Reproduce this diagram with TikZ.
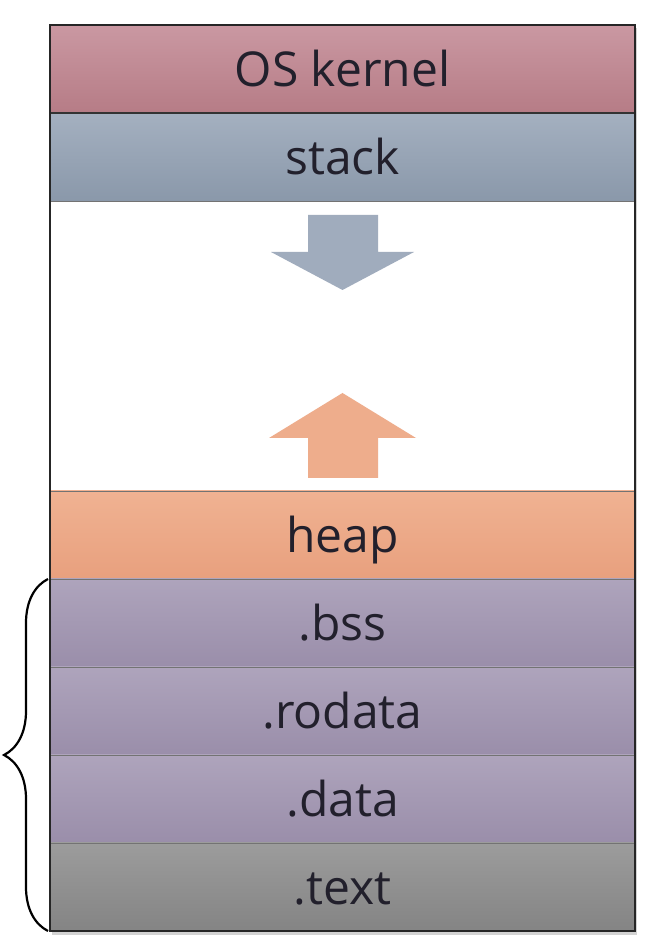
\documentclass[tikz,border=0pt]{standalone}
\usepackage{fontspec}
\setmainfont{Open Sans}
\usetikzlibrary{positioning,decorations.pathreplacing,shadows}
\definecolor{kerneltop}{RGB}{202,152,162}
\definecolor{kernelbot}{RGB}{182,124,134}
\definecolor{stacktop}{RGB}{164,176,192}
\definecolor{stackbot}{RGB}{138,152,170}
\definecolor{heaptop}{RGB}{240,178,146}
\definecolor{heapbot}{RGB}{232,160,126}
\definecolor{sectop}{RGB}{174,164,188}
\definecolor{secbot}{RGB}{154,142,170}
\definecolor{texttop}{RGB}{156,156,156}
\definecolor{textbot}{RGB}{132,132,132}
\definecolor{labelink}{RGB}{34,32,44}
\begin{document}
\begin{tikzpicture}
[
    x=1pt, y=1pt,
    band/.style={minimum width=585pt, minimum height=88pt, inner sep=0pt, outer sep=0pt,
        draw=black!55, line width=0.8pt, text=labelink,
        font=\fontsize{48}{52}\selectfont, text height=36pt, text depth=0pt},
    kernelband/.style={band, top color=kerneltop, bottom color=kernelbot},
    stackband/.style={band, top color=stacktop, bottom color=stackbot},
    heapband/.style={band, top color=heaptop, bottom color=heapbot},
    secband/.style={band, top color=sectop, bottom color=secbot},
    codeband/.style={band, top color=texttop, bottom color=textbot},
    frame/.style={draw=black!85, line width=1.4pt},
    growarrow/.style={draw=none},
    secbrace/.style={decorate, decoration={brace, amplitude=44pt}, line width=2.2pt, black},
]
\useasboundingbox (0,0) rectangle (656,942);
% white box with its shadow
\fill[white, drop shadow={opacity=0.35, shadow xshift=2pt, shadow yshift=-3pt}] (50,10) rectangle (635,917);
% memory regions, top to bottom
\node[kernelband] (kernel) at (342.5,873) {OS kernel};
\node[stackband, below=0pt of kernel] (stack) {stack};
\node[heapband, below=290pt of stack] (heap) {heap};
\node[secband, below=0pt of heap] (bss) {.bss};
\node[secband, below=0pt of bss] (rodata) {.rodata};
\node[secband, below=0pt of rodata] (data) {.data};
\node[codeband, below=0pt of data] (text) {.text};
\draw[black!80, line width=1.6pt] (kernel.south west) -- (kernel.south east);
\draw[frame] (kernel.north west) rectangle (text.south east);
% stack grows down, heap grows up
\fill[growarrow, stacktop!85!stackbot] (308,727) -- (378,727) -- (378,690) -- (414,690)
    -- (342.5,652) -- (271,690) -- (308,690) -- cycle;
\fill[growarrow, heaptop!70!heapbot] (308,464) -- (378,464) -- (378,504) -- (416,504)
    -- (342.5,549) -- (269,504) -- (308,504) -- cycle;
\draw[secbrace] ([xshift=-2pt]text.south west) -- ([xshift=-2pt]bss.north west);
\end{tikzpicture}
\end{document}
